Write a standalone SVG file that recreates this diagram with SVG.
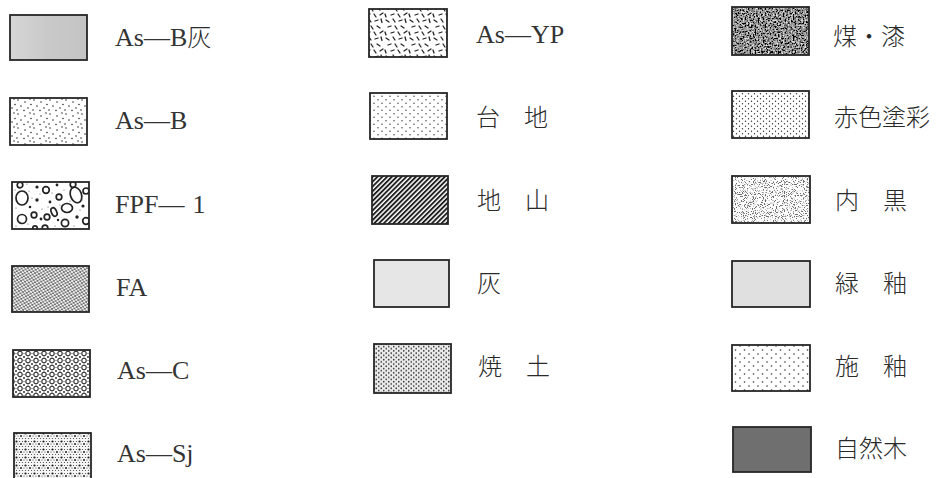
<svg xmlns="http://www.w3.org/2000/svg" width="936" height="478" viewBox="0 0 936 478">
<style>
.box{stroke:#262626;stroke-width:1.8}
.lat{font-family:"Liberation Serif","Noto Serif CJK JP","Noto Sans CJK JP",serif;font-size:26px;fill:#333}
.cjk{font-family:"Noto Sans CJK JP",sans-serif;font-size:24px;fill:#2a2a2a;font-weight:300}
</style>
<defs>
<pattern id="p-asb" patternUnits="userSpaceOnUse" width="16" height="14">
<rect width="16" height="14" fill="#fff"/>
<g fill="#333"><circle cx="2" cy="2" r="0.8"/><circle cx="9" cy="4" r="0.8"/><circle cx="14" cy="1" r="0.8"/><circle cx="5" cy="8" r="0.8"/><circle cx="12" cy="10" r="0.8"/><circle cx="1" cy="12" r="0.8"/><circle cx="8" cy="12.5" r="0.8"/><circle cx="15" cy="6.5" r="0.8"/></g>
</pattern>
<pattern id="p-fpf" patternUnits="userSpaceOnUse" x="12" y="182" width="77" height="47">
<rect width="77" height="47" fill="#fff"/>
<g fill="none" stroke="#222" stroke-width="1.7">
<ellipse cx="10" cy="16" rx="6" ry="7"/><circle cx="34" cy="8" r="3.3"/><ellipse cx="64" cy="13" rx="5.5" ry="8" transform="rotate(-20 64 13)"/>
<circle cx="47" cy="15" r="2.8"/><ellipse cx="55" cy="26" rx="5.5" ry="4.5"/><ellipse cx="42" cy="30" rx="2.6" ry="4.5" transform="rotate(-25 42 30)"/>
<circle cx="10" cy="37" r="4.5"/><circle cx="35" cy="35" r="2.8"/><circle cx="22" cy="33" r="2.8"/><circle cx="53" cy="41" r="3.6"/>
<circle cx="74" cy="39" r="3.3"/><circle cx="74" cy="9" r="3"/><circle cx="8" cy="3" r="2.8"/><circle cx="61" cy="2.5" r="2.8"/><circle cx="33" cy="46" r="2.8"/><circle cx="23" cy="46" r="2.2"/>
</g>
<g fill="#222"><circle cx="25" cy="18" r="1.7"/><circle cx="29" cy="37" r="1.4"/><circle cx="65" cy="35" r="1.7"/><circle cx="45" cy="3" r="1.4"/><circle cx="25" cy="5" r="1.6"/><circle cx="71" cy="24" r="1.6"/><circle cx="38" cy="20" r="1.4"/><circle cx="18" cy="25" r="1.3"/><circle cx="46" cy="38" r="1.2"/></g>
<g fill="#555"><circle cx="4" cy="26" r="0.55"/><circle cx="17" cy="9" r="0.55"/><circle cx="20" cy="16" r="0.55"/><circle cx="30" cy="27" r="0.55"/><circle cx="40" cy="11" r="0.55"/><circle cx="52" cy="8" r="0.55"/><circle cx="58" cy="19" r="0.55"/><circle cx="48" cy="23" r="0.55"/><circle cx="68" cy="28" r="0.55"/><circle cx="62" cy="44" r="0.55"/><circle cx="43" cy="44" r="0.55"/><circle cx="16" cy="42" r="0.55"/><circle cx="4" cy="44" r="0.55"/><circle cx="15" cy="2" r="0.55"/><circle cx="28" cy="12" r="0.55"/><circle cx="36" cy="25" r="0.55"/><circle cx="70" cy="18" r="0.55"/><circle cx="3" cy="8" r="0.55"/></g>
</pattern>
<pattern id="p-fa" patternUnits="userSpaceOnUse" width="4" height="3.5" patternTransform="rotate(12)">
<rect width="4" height="3.5" fill="#666"/>
<circle cx="1" cy="0.9" r="1.2" fill="#f4f4f4"/><circle cx="3" cy="2.65" r="1.2" fill="#f4f4f4"/>
</pattern>
<pattern id="p-asc" patternUnits="userSpaceOnUse" width="8" height="7">
<rect width="8" height="7" fill="#fff"/>
<circle cx="4" cy="3.5" r="2.2" fill="none" stroke="#333" stroke-width="1.1"/>
<g fill="#333"><circle cx="0" cy="0" r="1"/><circle cx="8" cy="0" r="1"/><circle cx="0" cy="7" r="1"/><circle cx="8" cy="7" r="1"/><circle cx="0" cy="3.5" r="0.6"/><circle cx="8" cy="3.5" r="0.6"/><circle cx="4" cy="0" r="0.6"/><circle cx="4" cy="7" r="0.6"/></g>
</pattern>
<pattern id="p-assj" patternUnits="userSpaceOnUse" width="9" height="8">
<rect width="9" height="8" fill="#f6f6f6"/>
<g fill="#444"><circle cx="1.5" cy="1.5" r="0.6"/><circle cx="4.5" cy="1.5" r="0.6"/><circle cx="0" cy="4" r="0.6"/><circle cx="9" cy="4" r="0.6"/><circle cx="1.5" cy="6.5" r="0.6"/><circle cx="4.5" cy="6.5" r="0.6"/><circle cx="7.5" cy="6.5" r="0.6"/><circle cx="6" cy="4" r="0.6"/></g>
<g fill="#222"><circle cx="7.5" cy="1.5" r="1.1"/><circle cx="3" cy="4" r="1.0"/></g>
</pattern>
<pattern id="p-yp" patternUnits="userSpaceOnUse" width="24" height="18">
<rect width="24" height="18" fill="#fff"/>
<g stroke="#222" stroke-width="1.3" stroke-linecap="round">
<line x1="2" y1="2" x2="5" y2="4"/><line x1="9" y1="1" x2="11" y2="4"/><line x1="15" y1="3" x2="18" y2="2"/><line x1="21" y1="1" x2="22" y2="4.5"/>
<line x1="4" y1="9" x2="7" y2="8"/><line x1="11" y1="8" x2="13" y2="11"/><line x1="17" y1="8" x2="20" y2="10"/>
<line x1="1" y1="14" x2="2" y2="17"/><line x1="7" y1="15" x2="10" y2="14"/><line x1="14" y1="14" x2="16" y2="17"/><line x1="20" y1="15" x2="23" y2="13"/>
</g>
</pattern>
<pattern id="p-dai" patternUnits="userSpaceOnUse" width="8" height="7">
<rect width="8" height="7" fill="#fff"/>
<circle cx="2" cy="1.8" r="0.75" fill="#444"/><circle cx="6" cy="5.3" r="0.75" fill="#444"/>
</pattern>
<pattern id="p-jiyama" patternUnits="userSpaceOnUse" width="3.4" height="10" patternTransform="rotate(45)">
<rect width="3.4" height="10" fill="#fff"/>
<rect x="0" y="0" width="1.9" height="10" fill="#1e1e1e"/>
</pattern>
<pattern id="p-yaki" patternUnits="userSpaceOnUse" width="5" height="4.4">
<rect width="5" height="4.4" fill="#ececec"/>
<circle cx="1.25" cy="1.1" r="0.85" fill="#333"/><circle cx="3.75" cy="3.3" r="0.85" fill="#333"/>
</pattern>
<pattern id="p-seki" patternUnits="userSpaceOnUse" width="6" height="5">
<rect width="6" height="5" fill="#fff"/>
<circle cx="1.5" cy="1.25" r="0.7" fill="#333"/><circle cx="4.5" cy="3.75" r="0.7" fill="#333"/>
</pattern>
<pattern id="p-seyu" patternUnits="userSpaceOnUse" width="9" height="8">
<rect width="9" height="8" fill="#fff"/>
<circle cx="2" cy="2" r="0.8" fill="#333"/><circle cx="6.5" cy="6" r="0.8" fill="#333"/>
</pattern>
<filter id="f-soot" x="0" y="0" width="1" height="1">
<feTurbulence type="fractalNoise" baseFrequency="0.6" numOctaves="3" seed="4" result="n"/>
<feColorMatrix in="n" type="matrix" values="1.9 0 0 0 -0.68  1.9 0 0 0 -0.68  1.9 0 0 0 -0.68  0 0 0 0 1" result="g"/>
<feComposite in="g" in2="SourceGraphic" operator="in"/>
</filter>
<filter id="f-speck" x="0" y="0" width="1" height="1">
<feTurbulence type="fractalNoise" baseFrequency="0.9" numOctaves="2" seed="7" result="n"/>
<feColorMatrix in="n" type="matrix" values="0 0 0 0 0.15  0 0 0 0 0.15  0 0 0 0 0.15  -8 0 0 0 3.8" result="s"/>
<feComposite in="s" in2="SourceGraphic" operator="in" result="c"/>
<feMerge><feMergeNode in="SourceGraphic"/><feMergeNode in="c"/></feMerge>
</filter>
<linearGradient id="g-asbhai" x1="0" y1="0" x2="1" y2="0">
<stop offset="0" stop-color="#d6d6d6"/><stop offset="0.5" stop-color="#c9c9c9"/><stop offset="1" stop-color="#c4c4c4"/>
</linearGradient>
</defs>

<g id="item-asb-hai"><rect class="box" x="10" y="15" width="77" height="45" fill="url(#g-asbhai)"/><text class="lat" x="115" y="46">As—B<tspan class="cjk">灰</tspan></text></g>
<g id="item-asb"><rect class="box" x="10" y="98" width="77" height="47" fill="url(#p-asb)"/><text class="lat" x="115" y="129">As—B</text></g>
<g id="item-fpf1"><rect class="box" x="12" y="182" width="77" height="47" fill="url(#p-fpf)"/><text class="lat" x="115" y="213">FPF—<tspan dx="8">1</tspan></text></g>
<g id="item-fa"><rect class="box" x="12" y="266" width="77" height="46" fill="url(#p-fa)"/><text class="lat" x="116" y="296">FA</text></g>
<g id="item-asc"><rect class="box" x="13" y="350" width="77" height="47" fill="url(#p-asc)"/><text class="lat" x="117" y="379">As—C</text></g>
<g id="item-assj"><rect class="box" x="14" y="433" width="77" height="47" fill="url(#p-assj)"/><text class="lat" x="117" y="462">As—Sj</text></g>

<g id="item-asyp"><rect class="box" x="369" y="9" width="78" height="48" fill="url(#p-yp)"/><text class="lat" x="476" y="43">As—YP</text></g>
<g id="item-daichi"><rect class="box" x="370" y="93" width="77" height="46" fill="url(#p-dai)"/><text class="cjk" x="476" y="126">台　地</text></g>
<g id="item-jiyama"><rect class="box" x="372" y="176" width="76" height="48" fill="url(#p-jiyama)"/><text class="cjk" x="477" y="209">地　山</text></g>
<g id="item-hai"><rect class="box" x="374" y="260" width="75" height="47" fill="#e6e6e6"/><text class="cjk" x="477" y="292">灰</text></g>
<g id="item-yakitsuchi"><rect class="box" x="374" y="344" width="77" height="49" fill="url(#p-yaki)"/><text class="cjk" x="478" y="375">焼　土</text></g>

<g id="item-susu"><rect x="732" y="7" width="77" height="48" fill="#666" filter="url(#f-soot)"/><rect class="box" x="732" y="7" width="77" height="48" fill="none"/><text class="cjk" x="833" y="45">煤・漆</text></g>
<g id="item-sekishoku"><rect class="box" x="732" y="91" width="77" height="47" fill="url(#p-seki)"/><text class="cjk" x="834" y="126">赤色塗彩</text></g>
<g id="item-uchiguro"><rect x="732" y="176" width="78" height="47" fill="#fff" filter="url(#f-speck)"/><rect class="box" x="732" y="176" width="78" height="47" fill="none"/><text class="cjk" x="835" y="209">内　黒</text></g>
<g id="item-ryokuyu"><rect class="box" x="732" y="261" width="78" height="46" fill="#e0e0e0"/><text class="cjk" x="835" y="292">緑　釉</text></g>
<g id="item-seyu"><rect class="box" x="732" y="345" width="78" height="46" fill="url(#p-seyu)"/><text class="cjk" x="835" y="375">施　釉</text></g>
<g id="item-shizenboku"><rect class="box" x="733" y="427" width="78" height="45" fill="#6f6f6f"/><text class="cjk" x="835" y="457">自然木</text></g>
</svg>
